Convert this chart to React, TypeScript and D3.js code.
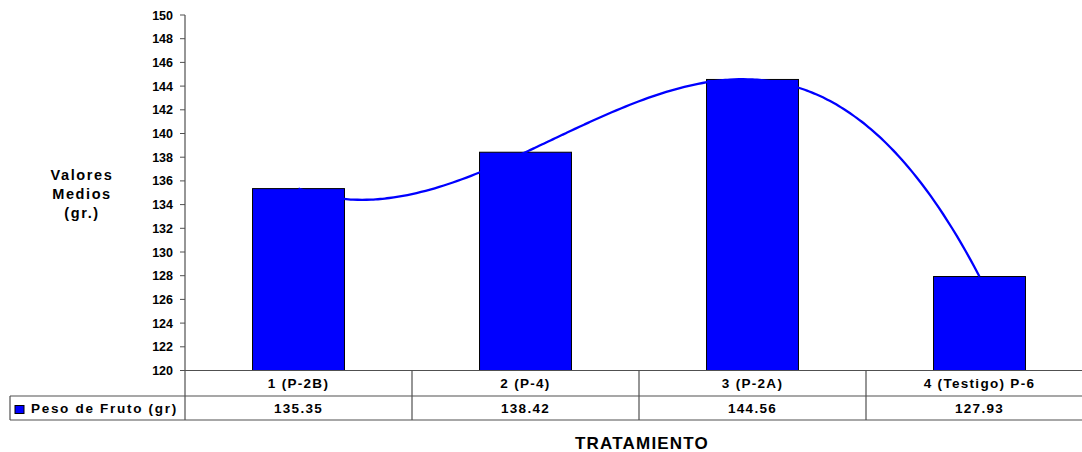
import React from "react";
import * as d3 from "d3";

// Data
const categories = ["1 (P-2B)", "2 (P-4)", "3 (P-2A)", "4 (Testigo) P-6"];
const pesoFruto = [135.35, 138.42, 144.56, 127.93];
const valueLabels = ["135.35", "138.42", "144.56", "127.93"];
const yTicks = [120, 122, 124, 126, 128, 130, 132, 134, 136, 138, 140, 142, 144, 146, 148, 150];
const seriesName = "Peso de Fruto (gr)";
const yTitle = ["Valores", "Medios", "(gr.)"];
const xTitle = "TRATAMIENTO";

const W = 1082;
const H = 452;
const FONT = "Arial, 'Liberation Sans', Helvetica, sans-serif";
const BLUE = "#0000FF";
const GRID = "#505050";

// Least-squares polynomial fit (order 3 trendline)
function polyfit(xs: number[], ys: number[], order: number): number[] {
  const n = order + 1;
  const A: number[][] = Array.from({ length: n }, () => new Array(n + 1).fill(0));
  for (let r = 0; r < n; r++) {
    for (let c = 0; c < n; c++) {
      A[r][c] = d3.sum(xs, (x) => Math.pow(x, r + c));
    }
    A[r][n] = d3.sum(xs, (x, i) => ys[i] * Math.pow(x, r));
  }
  // Gaussian elimination
  for (let i = 0; i < n; i++) {
    let piv = i;
    for (let k = i + 1; k < n; k++) if (Math.abs(A[k][i]) > Math.abs(A[piv][i])) piv = k;
    [A[i], A[piv]] = [A[piv], A[i]];
    for (let k = i + 1; k < n; k++) {
      const f = A[k][i] / A[i][i];
      for (let j = i; j <= n; j++) A[k][j] -= f * A[i][j];
    }
  }
  const coef = new Array(n).fill(0);
  for (let i = n - 1; i >= 0; i--) {
    let s = A[i][n];
    for (let j = i + 1; j < n; j++) s -= A[i][j] * coef[j];
    coef[i] = s / A[i][i];
  }
  return coef;
}

export default function App() {
  const plotLeft = 185;
  const plotRight = 1093;
  const plotTop = 15;
  const plotBottom = 370.5;
  const row1 = 396;
  const row2 = 420;
  const legendLeft = 10;

  const x = d3.scaleBand<string>().domain(categories).range([plotLeft, plotRight]).paddingInner(0).paddingOuter(0);
  const y = d3.scaleLinear().domain([120, 150]).range([plotBottom, plotTop]);
  const barW = x.bandwidth() * 0.405;

  const idx = categories.map((_, i) => i + 1);
  const coef = polyfit(idx, pesoFruto, 3);
  const trend = (t: number) => coef.reduce((acc, c, k) => acc + c * Math.pow(t, k), 0);
  const xIdx = d3
    .scaleLinear()
    .domain([1, categories.length])
    .range([x(categories[0])! + x.bandwidth() / 2, x(categories[categories.length - 1])! + x.bandwidth() / 2]);
  const samples = d3.range(1, categories.length + 0.0001, 0.02);
  const linePath = d3
    .line<number>()
    .x((t) => xIdx(t))
    .y((t) => y(trend(t)))
    .curve(d3.curveMonotoneX)(samples);

  const tableText = { fontSize: 13.5, fontWeight: "bold", letterSpacing: 1.3 } as const;

  return (
    <svg
      width={W}
      height={H}
      viewBox={`0 0 ${W} ${H}`}
      style={{ position: "absolute", left: 0, top: 0, background: "#fff" }}
      fontFamily={FONT}
    >
      <rect x={0} y={0} width={W} height={H} fill="#fff" />

      {/* Y axis */}
      <line x1={plotLeft} x2={plotLeft} y1={plotTop} y2={row2} stroke={GRID} strokeWidth={1.2} />
      {yTicks.map((t) => (
        <g key={t}>
          <line x1={plotLeft - 5} x2={plotLeft} y1={y(t)} y2={y(t)} stroke={GRID} strokeWidth={1} />
          <text
            x={plotLeft - 12}
            y={y(t)}
            dy="0.36em"
            textAnchor="end"
            fontSize={12.5}
            fontWeight="bold"
            fill="#000"
          >
            {t}
          </text>
        </g>
      ))}

      {/* Bars */}
      {categories.map((c, i) => (
        <rect
          key={c}
          x={x(c)! + (x.bandwidth() - barW) / 2}
          y={y(pesoFruto[i])}
          width={barW}
          height={y(120) - y(pesoFruto[i])}
          fill={BLUE}
          stroke="#000"
          strokeWidth={1}
        />
      ))}

      {/* Polynomial trendline */}
      <path d={linePath ?? ""} fill="none" stroke={BLUE} strokeWidth={2.3} strokeLinejoin="round" />

      {/* Data table */}
      <line x1={plotLeft} x2={W} y1={plotBottom} y2={plotBottom} stroke={GRID} strokeWidth={1.2} />
      <line x1={legendLeft} x2={W} y1={row1} y2={row1} stroke={GRID} strokeWidth={1.2} />
      <line x1={legendLeft} x2={W} y1={row2} y2={row2} stroke={GRID} strokeWidth={1.2} />
      <line x1={legendLeft} x2={legendLeft} y1={row1} y2={row2} stroke={GRID} strokeWidth={1.2} />
      {categories.slice(1).map((c) => (
        <line key={c} x1={x(c)!} x2={x(c)!} y1={plotBottom} y2={row2} stroke={GRID} strokeWidth={1.2} />
      ))}
      {categories.map((c, i) => (
        <g key={c}>
          <text
            x={x(c)! + x.bandwidth() / 2}
            y={(plotBottom + row1) / 2}
            dy="0.36em"
            textAnchor="middle"
            {...tableText}
          >
            {c}
          </text>
          <text
            x={x(c)! + x.bandwidth() / 2}
            y={(row1 + row2) / 2}
            dy="0.36em"
            textAnchor="middle"
            {...tableText}
          >
            {valueLabels[i]}
          </text>
        </g>
      ))}

      {/* Legend key */}
      <rect x={15} y={405.5} width={9} height={8} fill={BLUE} stroke="#000" strokeWidth={1} />
      <text x={31} y={(row1 + row2) / 2} dy="0.36em" fontSize={13.5} fontWeight="bold" letterSpacing={1.7}>
        {seriesName}
      </text>

      {/* Axis titles */}
      {yTitle.map((s, i) => (
        <text
          key={s}
          x={82}
          y={180 + i * 19}
          textAnchor="middle"
          fontSize={14.5}
          fontWeight="bold"
          letterSpacing={1.6}
        >
          {s}
        </text>
      ))}
      <text x={642} y={449} textAnchor="middle" fontSize={17} fontWeight="bold" letterSpacing={1.2}>
        {xTitle}
      </text>
    </svg>
  );
}
